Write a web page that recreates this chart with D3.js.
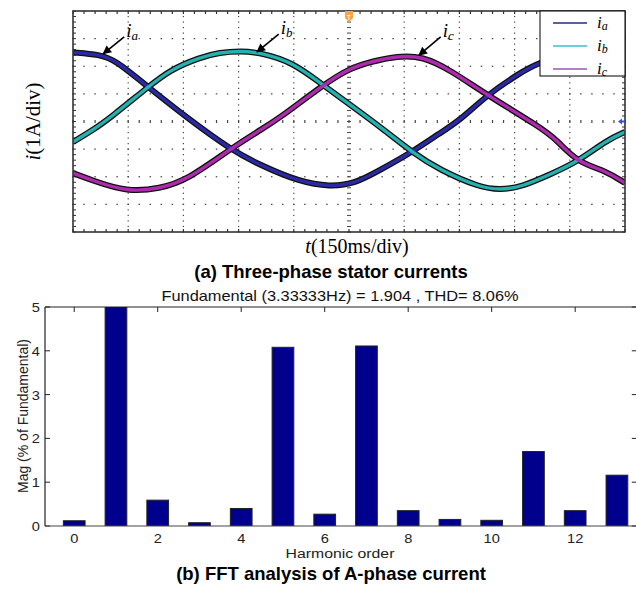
<!DOCTYPE html>
<html>
<head>
<meta charset="utf-8">
<script src="https://cdn.jsdelivr.net/npm/d3@7"></script>
<style>
  body { margin: 0; background: #fff; }
  svg { display: block; }
</style>
</head>
<body>
<svg id="chart" width="636" height="589"></svg>
<script>
// ---- top panel: scope traces, [time ms, current A]
let ia = [[0,2.50],[73,2.42],[114,2.23],[204,1.25],[318,0.05],[427,-1.0],[508,-1.58],[617,-2.19],[698,-2.36],[766,-2.25],[834,-1.76],[921,-1.11],[997,-0.42],[1052,0.05],[1125,0.96],[1215,1.76],[1263,2.12],[1350,2.45],[1432,2.54],[1500,2.38]];
let ib = [[0,-0.74],[54,-0.31],[101,0.13],[204,1.25],[264,1.87],[345,2.32],[399,2.50],[454,2.55],[508,2.50],[598,2.14],[679,1.32],[761,0.53],[842,-0.27],[921,-1.11],[997,-1.76],[1106,-2.39],[1160,-2.47],[1215,-2.39],[1304,-1.87],[1369,-1.47],[1451,-0.67],[1500,-0.38]];
let ic = [[0,-1.87],[54,-2.14],[147,-2.55],[236,-2.43],[310,-2.12],[427,-1.0],[508,-0.31],[554,0.05],[679,1.32],[753,1.94],[815,2.18],[880,2.37],[951,2.36],[1024,1.87],[1125,0.96],[1269,-0.20],[1315,-0.67],[1369,-1.47],[1451,-1.80],[1500,-2.23]];
let phaseNames = ["a", "b", "c"];
let traceColors = ["#2a2aa6", "#22b2b2", "#b02ab0"];
let legendColors = ["#1f2f80", "#3cc0cc", "#9b55b5"];
// label anchor: [text t, text i, arrow tip t, arrow tip i]
let arrowLabels = [[150, 3.1, 82, 2.45], [570, 3.2, 500, 2.52], [1010, 3.1, 940, 2.40]];

// ---- bottom panel: FFT bars
let harmonics = d3.range(0, 14);
let mags = [0.12, 100, 0.59, 0.075, 0.40, 4.08, 0.27, 4.11, 0.35, 0.15, 0.13, 1.70, 0.35, 1.16];
let xTickVals = [0, 2, 4, 6, 8, 10, 12];
let yTickVals = [0, 1, 2, 3, 4, 5];

let svg = d3.select("#chart");
let serif = "'Liberation Serif', 'Times New Roman', serif";
let sans = "'Liberation Sans', Arial, sans-serif";
let stretch = 1.17; // the FFT figure is a bit wider than tall

// ================= (a) scope =================
let tx = d3.scaleLinear().domain([0, 1500]).range([73, 625]);
let ty = d3.scaleLinear().domain([-4, 4]).range([232, 11]);
let topG = svg.append("g");

let majX = d3.range(0, 1501, 150), majY = d3.range(-4, 4.01, 1);
let minX = d3.range(0, 1500.1, 30), minY = d3.range(-4, 4.01, 0.2);

// dotted grid: dots sit on minor divisions
majY.slice(1, -1).forEach(v => {
  if (v === 0) return;
  topG.selectAll(null).data(minX).enter().append("rect")
    .attr("x", d => tx(d) - 0.75).attr("y", ty(v) - 0.6)
    .attr("width", 1.5).attr("height", 1.2).attr("fill", "#444");
});
majX.slice(1, -1).forEach(v => {
  if (v === 750) return;
  topG.selectAll(null).data(minY).enter().append("rect")
    .attr("x", tx(v) - 0.6).attr("y", d => ty(d) - 0.6)
    .attr("width", 1.2).attr("height", 1.2).attr("fill", "#444");
});
// centre axes with cross ticks
topG.selectAll(null).data(minX).enter().append("line")
  .attr("x1", d => tx(d)).attr("x2", d => tx(d))
  .attr("y1", ty(0) - 1.5).attr("y2", ty(0) + 1.5)
  .attr("stroke", "#444").attr("stroke-width", 1.2);
topG.selectAll(null).data(minY).enter().append("line")
  .attr("x1", tx(750) - 2).attr("x2", tx(750) + 2)
  .attr("y1", d => ty(d)).attr("y2", d => ty(d))
  .attr("stroke", "#444").attr("stroke-width", 1);
// border ticks
topG.selectAll(null).data(minX).enter().append("line")
  .attr("x1", d => tx(d)).attr("x2", d => tx(d))
  .attr("y1", ty(-4)).attr("y2", ty(-4) - 3)
  .attr("stroke", "#333").attr("stroke-width", 1.2);
topG.selectAll(null).data(minX).enter().append("line")
  .attr("x1", d => tx(d)).attr("x2", d => tx(d))
  .attr("y1", ty(4)).attr("y2", ty(4) + 3)
  .attr("stroke", "#333").attr("stroke-width", 1.2);
topG.selectAll(null).data(minY).enter().append("line")
  .attr("x1", tx(0)).attr("x2", tx(0) + 3)
  .attr("y1", d => ty(d)).attr("y2", d => ty(d))
  .attr("stroke", "#333").attr("stroke-width", 1);
topG.selectAll(null).data(minY).enter().append("line")
  .attr("x1", tx(1500)).attr("x2", tx(1500) - 3)
  .attr("y1", d => ty(d)).attr("y2", d => ty(d))
  .attr("stroke", "#333").attr("stroke-width", 1);

// traces
let line = d3.line().x(d => tx(d[0])).y(d => ty(d[1])).curve(d3.curveBasis);
let traces = [ia, ib, ic];
topG.append("clipPath").attr("id", "clipTop").append("rect")
  .attr("x", tx(0)).attr("y", ty(4)).attr("width", tx(1500) - tx(0)).attr("height", ty(-4) - ty(4));
let tg = topG.append("g").attr("clip-path", "url(#clipTop)");
traces.forEach((tr, i) => {
  tg.append("path").attr("d", line(tr)).attr("fill", "none")
    .attr("stroke", "#111").attr("stroke-width", 6).attr("stroke-linejoin", "round");
});
traces.forEach((tr, i) => {
  tg.append("path").attr("d", line(tr)).attr("fill", "none")
    .attr("stroke", traceColors[i]).attr("stroke-width", 3.4).attr("stroke-linejoin", "round");
});

// frame
topG.append("rect").attr("x", tx(0)).attr("y", ty(4))
  .attr("width", tx(1500) - tx(0)).attr("height", ty(-4) - ty(4))
  .attr("fill", "none").attr("stroke", "#333").attr("stroke-width", 1.6);

// scope markers
topG.append("path")
  .attr("d", `M${tx(750) - 4},${ty(4)} h8 v7 l-4,4 l-4,-4 z`)
  .attr("fill", "#f4a640");
topG.append("text").attr("x", tx(750)).attr("y", ty(4) + 9)
  .attr("text-anchor", "middle").attr("font-family", sans).attr("font-size", 7)
  .attr("fill", "#fff").text("T");
topG.append("path")
  .attr("d", `M${tx(1500) - 7},${ty(0)} l4,-3 v2 h3 v2 h-3 v2 z`)
  .attr("fill", "#3355dd");

// arrow labels
svg.append("defs").append("marker").attr("id", "arr")
  .attr("viewBox", "0 0 10 10").attr("refX", 9).attr("refY", 5)
  .attr("markerWidth", 6.5).attr("markerHeight", 5.5).attr("orient", "auto")
  .append("path").attr("d", "M0,0 L10,5 L0,10 z").attr("fill", "#000");
arrowLabels.forEach((a, i) => {
  let x0 = tx(a[0]), y0 = ty(a[1]);
  topG.append("line").attr("x1", x0 - 4).attr("y1", y0 + 1)
    .attr("x2", tx(a[2])).attr("y2", ty(a[3]))
    .attr("stroke", "#000").attr("stroke-width", 1.6).attr("marker-end", "url(#arr)");
  let t = topG.append("text").attr("x", x0 - 2).attr("y", y0 + 1)
    .attr("font-family", serif).attr("font-style", "italic").attr("font-size", 19);
  t.append("tspan").text("i");
  t.append("tspan").attr("font-size", 13).attr("dy", 3).text(phaseNames[i]);
});

// legend
let lg = topG.append("g");
lg.append("rect").attr("x", 540).attr("y", ty(4)).attr("width", tx(1500) - 540).attr("height", 65)
  .attr("fill", "#fff").attr("stroke", "#000").attr("stroke-width", 1);
phaseNames.forEach((p, i) => {
  let yy = 23 + i * 23;
  lg.append("line").attr("x1", 553).attr("x2", 587).attr("y1", yy).attr("y2", yy)
    .attr("stroke", legendColors[i]).attr("stroke-width", 1.3);
  let t = lg.append("text").attr("x", 597).attr("y", yy + 5)
    .attr("font-family", serif).attr("font-style", "italic").attr("font-size", 17);
  t.append("tspan").text("i");
  t.append("tspan").attr("font-size", 12).attr("dy", 2).text(p);
});

// axis labels
let yl = svg.append("text").attr("transform", `translate(40,${ty(0)}) rotate(-90)`)
  .attr("text-anchor", "middle").attr("font-family", serif).attr("font-size", 21);
yl.append("tspan").attr("font-style", "italic").text("i");
yl.append("tspan").text("(1A/div)");
let xl = svg.append("text").attr("x", 357).attr("y", 253)
  .attr("text-anchor", "middle").attr("font-family", serif).attr("font-size", 20);
xl.append("tspan").attr("font-style", "italic").text("t");
xl.append("tspan").text("(150ms/div)");

svg.append("text").attr("x", 331).attr("y", 278).attr("text-anchor", "middle")
  .attr("font-family", sans).attr("font-weight", "bold").attr("font-size", 18.5)
  .text("(a) Three-phase stator currents");

// ================= (b) FFT =================
let bx = d3.scaleLinear().domain([-0.7, 13.5]).range([45, 637.8]);
let by = d3.scaleLinear().domain([0, 5]).range([526, 307]);
let bot = svg.append("g");
bot.append("clipPath").attr("id", "clipBot").append("rect")
  .attr("x", bx(-0.7)).attr("y", by(5)).attr("width", bx(13.5) - bx(-0.7)).attr("height", by(0) - by(5));

// inward ticks
bot.selectAll(null).data(xTickVals).enter().append("line")
  .attr("x1", d => bx(d)).attr("x2", d => bx(d)).attr("y1", by(5)).attr("y2", by(5) + 5)
  .attr("stroke", "#222");
bot.selectAll(null).data(yTickVals).enter().append("line")
  .attr("x1", bx(-0.7)).attr("x2", bx(-0.7) + 5).attr("y1", d => by(d)).attr("y2", d => by(d))
  .attr("stroke", "#222");
bot.selectAll(null).data(yTickVals).enter().append("line")
  .attr("x1", bx(13.5)).attr("x2", bx(13.5) - 6).attr("y1", d => by(d)).attr("y2", d => by(d))
  .attr("stroke", "#222");

let bw = bx(0.26) - bx(-0.26);
bot.append("g").attr("clip-path", "url(#clipBot)")
  .selectAll("rect").data(harmonics).enter().append("rect")
  .attr("x", d => bx(d) - bw / 2).attr("width", bw)
  .attr("y", (d, i) => by(mags[i])).attr("height", (d, i) => by(0) - by(mags[i]))
  .attr("fill", "#00008c").attr("stroke", "#222").attr("stroke-width", 1);

// axes lines
bot.append("line").attr("x1", bx(-0.7)).attr("x2", bx(13.5)).attr("y1", by(5)).attr("y2", by(5))
  .attr("stroke", "#222").attr("stroke-width", 1.2);
bot.append("line").attr("x1", bx(-0.7)).attr("x2", bx(13.5)).attr("y1", by(0)).attr("y2", by(0))
  .attr("stroke", "#444").attr("stroke-width", 1.2);
bot.append("line").attr("x1", bx(-0.7)).attr("x2", bx(-0.7)).attr("y1", by(0)).attr("y2", by(5))
  .attr("stroke", "#222").attr("stroke-width", 1.2);

// tick labels (horizontally stretched like the source figure)
bot.selectAll(null).data(xTickVals).enter().append("text")
  .attr("transform", d => `translate(${bx(d)},543) scale(${stretch},1)`).attr("text-anchor", "middle")
  .attr("font-family", sans).attr("font-size", 12.5).attr("fill", "#222").text(d => d);
bot.selectAll(null).data(yTickVals).enter().append("text")
  .attr("transform", d => `translate(40,${by(d) + 5}) scale(${stretch},1)`).attr("text-anchor", "end")
  .attr("font-family", sans).attr("font-size", 12.5).attr("fill", "#222").text(d => d);

svg.append("text").attr("transform", `translate(28,416) rotate(-90)`)
  .attr("text-anchor", "middle").attr("font-family", sans).attr("font-size", 14).attr("fill", "#222")
  .text("Mag (% of Fundamental)");
svg.append("text").attr("transform", `translate(340,558) scale(${stretch},1)`).attr("text-anchor", "middle")
  .attr("font-family", sans).attr("font-size", 13.5).attr("fill", "#222")
  .text("Harmonic order");
svg.append("text").attr("transform", `translate(340,301) scale(${stretch},1)`).attr("text-anchor", "middle")
  .attr("font-family", sans).attr("font-size", 14).attr("fill", "#111")
  .text("Fundamental (3.33333Hz) = 1.904 , THD= 8.06%");
svg.append("text").attr("x", 331).attr("y", 580).attr("text-anchor", "middle")
  .attr("font-family", sans).attr("font-weight", "bold").attr("font-size", 18.5)
  .text("(b) FFT analysis of A-phase current");
</script>
</body>
</html>
